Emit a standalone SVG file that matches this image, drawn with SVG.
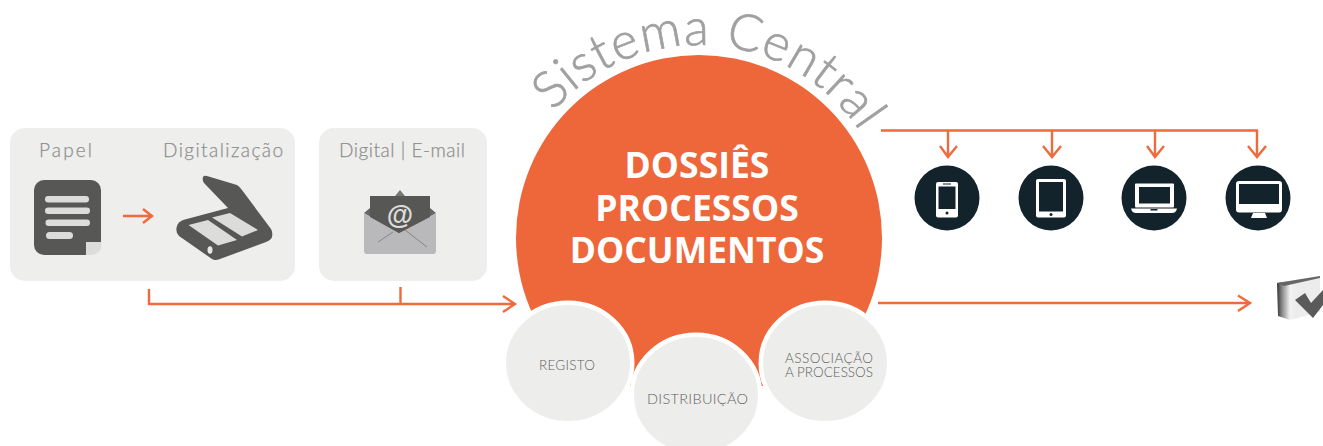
<svg xmlns="http://www.w3.org/2000/svg" width="1323" height="446" viewBox="0 0 1323 446">
<style>
.panel{fill:#eeeeed}
.lbl{font-family:Lato,"Liberation Sans",sans-serif;font-weight:300;font-size:19px;fill:#8f8f8e;stroke:#8f8f8e;stroke-width:0.250;text-anchor:middle}
.dark{fill:#575756}
.pale{fill:#dcdcdb}
.con{fill:none;stroke:#ef6a3d;stroke-width:2.400}
.sat{fill:#ededec;stroke:#fff;stroke-width:4.500}
.sl{font-family:Lato,"Liberation Sans",sans-serif;font-weight:300;fill:#5f5f5e;text-anchor:middle}
.main{font-family:"Open Sans","Liberation Sans",sans-serif;font-weight:700;font-size:35.500px;fill:#fff;text-anchor:middle}
.dev{fill:#12232b}
.wh{fill:#fff}
</style>
<defs>
<linearGradient id="edge" gradientUnits="userSpaceOnUse" x1="1276" y1="0" x2="1296" y2="0"><stop offset="0" stop-color="#222"/><stop offset="0.3" stop-color="#888"/><stop offset="0.7" stop-color="#f2f2f2"/><stop offset="1" stop-color="#ececec"/></linearGradient>
<path id="arc" d="M 553.300 111.400 A 193 193 0 0 1 866 141.500"/>
</defs>

<g id="panel-paper">
<rect class="panel" x="10" y="128" width="285" height="153" rx="15"/>
<text class="lbl" x="65.500" y="157" textLength="53">Papel</text>
<text class="lbl" x="223" y="157" textLength="120">Digitalização</text>
<path class="dark" d="M44 180H91a10 10 0 0 1 10 10V242L86 255H44a10 10 0 0 1-10-10V190a10 10 0 0 1 10-10Z"/>
<path class="pale" d="M86 242H101.500V245a10 10 0 0 1-10 10H86Z"/>
<rect class="pale" x="45" y="196" width="44" height="6.500" rx="3.200"/>
<rect class="pale" x="45" y="207.500" width="45" height="6.500" rx="3.200"/>
<rect class="pale" x="45.500" y="219.500" width="44.500" height="6.500" rx="3.200"/>
<rect class="pale" x="46" y="232" width="27" height="7" rx="3.500"/>
<path class="dark" d="M203 177Q204 175 207 176L237 185Q240 187 242 190L271 229Q273 232 272 237Q271 240 266 242L220 259Q215 261 212 259L179 236Q175 232 177 226Q178 222 183 220L228 208L204 183Q202 180 203 177Z"/>
<path class="pale" d="M188.500 225 208 220 237 240 218 245.500Z"/>
<path class="pale" d="M212 217.500 230 213 258 230 242 236.500Z"/>
<ellipse cx="210" cy="250" rx="2.500" ry="3.700" fill="#e8e8e7"/>
</g>

<g id="panel-digital">
<rect class="panel" x="319" y="128" width="168" height="153" rx="15"/>
<text class="lbl" x="402" y="157" textLength="126">Digital | E-mail</text>
<path d="M395 196 400 190 405 196Z" fill="#777"/>
<path d="M364 213 370 208V200H430V208L436 213 400 236Z" fill="#666"/>
<path d="M364 213 399 233 436 213V251a3 3 0 0 1-3 3H367a3 3 0 0 1-3-3Z" fill="#b9b8ba"/>
<path class="dark" d="M370 196H430V217L399 233 370 217Z"/>
<path d="M378 242 393 232M427 247 405 230" stroke="#777" stroke-width="0.800" fill="none"/>
<text x="400" y="224" font-family="'Liberation Sans',sans-serif" font-weight="700" font-size="27" fill="#dcdcdb" text-anchor="middle">@</text>
</g>

<g id="connectors">
<path class="con" d="M123 216H152M143 209 152 216 143 223"/>
<path class="con" d="M149 289V304H514M503 296 515 304 503 312M400.500 287V304"/>
<path class="con" d="M881 130.500H1257V156M948 130.500V156M1052 130.500V156M1155 130.500V156M940 146 948 157 957 146M1043 146 1052 157 1061 146M1147 146 1155 157 1164 146M1248 146 1257 157 1266 146"/>
<path class="con" d="M878 303H1249M1238 295.500 1250 303 1238 311"/>
</g>

<g id="central">
<circle cx="699" cy="238" r="183" fill="#ee673a"/>
<rect x="600" y="386" width="190" height="60" fill="#fff"/>
<text font-family="Lato,'Liberation Sans',sans-serif" font-weight="300" font-size="51" fill="#a0a0a0" stroke="#a0a0a0" stroke-width="0.700"><textPath href="#arc" textLength="355" lengthAdjust="spacing">Sistema Central</textPath></text>
<text class="main" x="697" y="178">DOSSIÊS</text>
<text class="main" x="697" y="221">PROCESSOS</text>
<text class="main" x="697" y="263">DOCUMENTOS</text>
</g>

<g id="registo">
<ellipse class="sat" cx="568" cy="363" rx="64.200" ry="60.200"/>
<text class="sl" x="567" y="370" font-size="13.500" textLength="56">REGISTO</text>
</g>
<g id="distribuicao">
<ellipse class="sat" cx="696" cy="395" rx="64.200" ry="60.200"/>
<text class="sl" x="697.500" y="404" font-size="14.500" textLength="101">DISTRIBUIÇÃO</text>
</g>
<g id="associacao">
<ellipse class="sat" cx="825" cy="363" rx="64.200" ry="60.200"/>
<text class="sl" x="829" y="363" font-size="13.500" textLength="88">ASSOCIAÇÃO</text>
<text class="sl" x="829" y="377" font-size="13.500" textLength="88">A PROCESSOS</text>
</g>

<g id="device-phone">
<circle class="dev" cx="947" cy="198" r="32.500"/>
<rect class="wh" x="936" y="182" width="22" height="35.500" rx="2"/>
<rect class="dev" x="938.500" y="186.500" width="17" height="22.500"/>
<rect class="dev" x="943" y="183.500" width="8" height="1"/>
<circle class="dev" cx="947" cy="213" r="1.500"/>
</g>
<g id="device-tablet">
<circle class="dev" cx="1051" cy="198" r="32.500"/>
<rect class="wh" x="1036" y="179" width="30" height="38.500" rx="2"/>
<rect class="dev" x="1039" y="182" width="24" height="29.500"/>
<circle class="dev" cx="1051" cy="214.500" r="1.500"/>
</g>
<g id="device-laptop">
<circle class="dev" cx="1154" cy="198" r="32.500"/>
<rect class="wh" x="1135" y="183.500" width="39" height="24" rx="1"/>
<rect class="dev" x="1139" y="187" width="31" height="16.500"/>
<path class="wh" d="M1131 208.500H1177Q1176 213 1172 213H1136Q1132 213 1131 208.500Z"/>
<rect class="dev" x="1150.500" y="209" width="7" height="1.500"/>
</g>
<g id="device-monitor">
<circle class="dev" cx="1258" cy="198" r="32.500"/>
<rect class="wh" x="1236" y="181" width="46" height="31.500" rx="3"/>
<rect class="dev" x="1239" y="184" width="40" height="20"/>
<path class="wh" d="M1253 213H1265L1267 218H1251Z"/>
</g>

<g id="archive">
<path d="M1277 283 1320 276V312L1290 320 1278 316Z" fill="url(#edge)"/>
<path d="M1277 283 1320 276V278L1284 286Z" fill="#666"/>
<path d="M1295 300 1305 293 1311 303 1323 290V305L1313 318Z" fill="#5a5a5a"/>
</g>
</svg>
